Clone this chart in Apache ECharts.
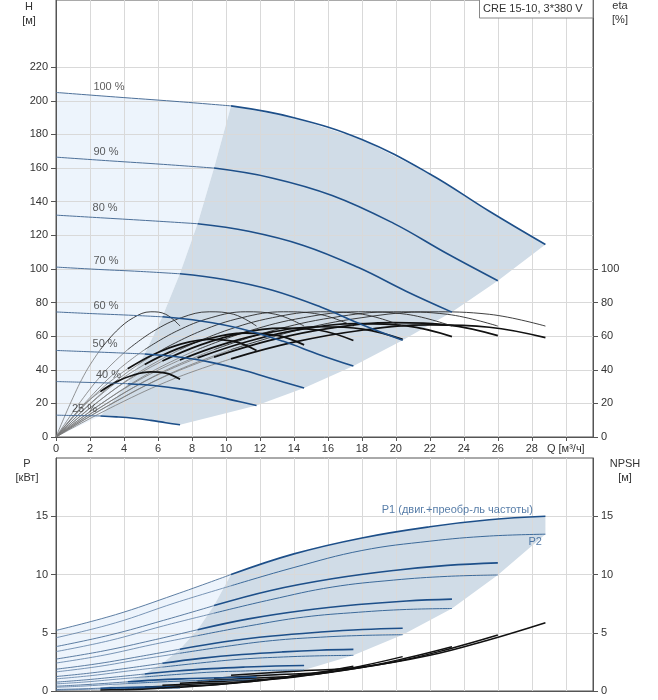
<!DOCTYPE html>
<html lang="ru">
<head>
<meta charset="UTF-8">
<title>CRE 15-10, 3*380 V</title>
<script src="https://cdn.jsdelivr.net/npm/echarts@6/dist/echarts.min.js"></script>
<style>html,body{margin:0;padding:0;background:#fff}</style>
</head>
<body>
<div id="main" style="width:658px;height:700px;"></div>
<script>
// скорости (подписи кривых)
var speedNames = ['100 %', '90 %', '80 %', '70 %', '60 %', '50 %', '40 %', '25 %'];

// расход Q [м³/ч]; точки 0..3 - до мин. расхода, 3..8 - рабочая зона
var flow = [
  [0, 3.5, 7, 10.3, 14, 18, 22, 25.5, 28.8],
  [0, 3.16, 6.32, 9.3, 12.64, 16.25, 19.87, 23.03, 26.0],
  [0, 2.83, 5.66, 8.33, 11.33, 14.56, 17.8, 20.63, 23.3],
  [0, 2.48, 4.96, 7.29, 9.91, 12.74, 15.58, 18.05, 20.4],
  [0, 2.13, 4.26, 6.26, 8.51, 10.94, 13.38, 15.5, 17.5],
  [0, 1.77, 3.55, 5.22, 7.1, 9.13, 11.15, 12.93, 14.6],
  [0, 1.44, 2.87, 4.22, 5.74, 7.38, 9.02, 10.46, 11.8],
  [0, 0.89, 1.77, 2.61, 3.55, 4.56, 5.58, 6.46, 7.3]
];

// напор H [м]
var head = [
  [205, 202.3, 199.7, 197, 190, 177, 156.5, 134.3, 114.5],
  [166.5, 164.3, 162.2, 160, 154.3, 143.7, 127.1, 109, 93],
  [132, 130.3, 128.6, 126.9, 122.4, 114, 100.8, 86.6, 74.3],
  [101.1, 99.7, 98.5, 97.1, 93.7, 87.3, 77.3, 66.6, 57.5],
  [74.4, 73.4, 72.5, 71.5, 69, 64.3, 56.9, 49, 42.2],
  [51.5, 50.8, 50.1, 49.4, 47.7, 44.4, 39.4, 34, 29.2],
  [33, 32.6, 32.2, 31.7, 30.6, 28.5, 25.3, 21.8, 18.7],
  [13, 12.8, 12.7, 12.5, 12.0, 11.2, 9.9, 8.5, 7.3]
];

// КПД насоса [%] (одинаков для всех скоростей по точкам flow)
var etaPump = [0, 21, 39, 52, 63, 71, 74.5, 73, 66];

// общий КПД (двиг.+преобр.) [%]
var etaTotal = [
  [0, 18.8, 34.9, 46.5, 56.4, 63.5, 66.7, 65.3, 59.1],
  [0, 19.2, 35.6, 47.5, 57.6, 64.9, 68.1, 66.7, 60.3],
  [0, 19, 35.3, 47.1, 57, 64.3, 67.4, 66.1, 59.7],
  [0, 18.5, 34.3, 45.8, 55.4, 62.5, 65.6, 64.2, 58.1],
  [0, 18.3, 33.9, 45.2, 54.8, 61.8, 64.8, 63.5, 57.4],
  [0, 17.4, 32.4, 43.2, 52.3, 58.9, 61.8, 60.6, 54.8],
  [0, 16.4, 30.4, 40.6, 49.1, 55.4, 58.1, 56.9, 51.5],
  [0, 10.9, 20.3, 27, 32.8, 36.9, 38.7, 38, 34.3]
];

// мощность P1 [кВт]
var powerP1 = [
  [5.2, 6.55, 8.27, 10.0, 11.77, 13.14, 14.1, 14.7, 15.0],
  [3.81, 4.8, 6.06, 7.33, 8.63, 9.63, 10.34, 10.78, 11.0],
  [2.74, 3.45, 4.35, 5.26, 6.19, 6.91, 7.42, 7.73, 7.89],
  [1.87, 2.35, 2.97, 3.59, 4.23, 4.72, 5.06, 5.28, 5.39],
  [1.24, 1.56, 1.97, 2.38, 2.8, 3.13, 3.36, 3.5, 3.57],
  [0.76, 0.96, 1.21, 1.46, 1.72, 1.92, 2.06, 2.15, 2.19],
  [0.41, 0.52, 0.65, 0.79, 0.93, 1.04, 1.11, 1.16, 1.19],
  [0.13, 0.16, 0.2, 0.24, 0.28, 0.32, 0.34, 0.35, 0.36]
];

// мощность P2 [кВт]
var powerP2 = [
  [4.57, 5.85, 7.56, 9.03, 10.6, 12.06, 12.86, 13.3, 13.46],
  [3.38, 4.33, 5.59, 6.68, 7.84, 8.92, 9.52, 9.84, 9.96],
  [2.4, 3.08, 3.98, 4.75, 5.58, 6.34, 6.76, 7.0, 7.08],
  [1.64, 2.1, 2.71, 3.24, 3.81, 4.33, 4.62, 4.77, 4.83],
  [1.04, 1.33, 1.72, 2.05, 2.41, 2.74, 2.92, 3.02, 3.06],
  [0.61, 0.78, 1.01, 1.21, 1.42, 1.62, 1.72, 1.78, 1.8],
  [0.32, 0.41, 0.53, 0.64, 0.75, 0.85, 0.91, 0.94, 0.95],
  [0.08, 0.11, 0.14, 0.17, 0.2, 0.22, 0.24, 0.25, 0.25]
];

// NPSH [м], только рабочая зона (точки flow 3..8)
var npsh = [
  [1.35, 1.7, 2.06, 3.06, 4.4, 5.86],
  [1.1, 1.38, 1.67, 2.48, 3.57, 4.8],
  [0.87, 1.09, 1.33, 1.97, 2.83, 3.8],
  [0.67, 0.84, 1.02, 1.51, 2.17, 2.95],
  [0.49, 0.62, 0.75, 1.11, 1.6, 2.13],
  [0.34, 0.43, 0.52, 0.77, 1.1, 1.47],
  [0.22, 0.27, 0.33, 0.49, 0.71, 0.94],
  [0.09, 0.11, 0.13, 0.19, 0.28, 0.37]
];

// точки привязки подписей скоростей [Q, H]
var speedLabelSpots = [[2.2, 208], [2.2, 169.5], [2.15, 136], [2.2, 104.5], [2.2, 77.7], [2.15, 55.3], [2.35, 37], [0.94, 16.8]];

var FONT = 'Liberation Sans, Arial, sans-serif';
var LIGHT = 3;   // индекс точки мин. расхода

function pts(xs, ys, from, to) {
    var out = [];
    for (var i = from; i <= to; i++) out.push([xs[i], ys[i - (xs.length - ys.length)]]);
    return out;
}

function line(data, x, y, color, width) {
    return {
        type: 'line', xAxisIndex: x, yAxisIndex: y, data: data,
        showSymbol: false, smooth: 0.4, silent: true,
        lineStyle: { color: color, width: width }
    };
}

function poly(points, color, x, y) {
    return {
        type: 'custom', xAxisIndex: x, yAxisIndex: y, z: -1, silent: true,
        data: [[0, 0]],
        renderItem: function (params, api) {
            return {
                type: 'polygon',
                shape: { points: points.map(function (p) { return api.coord(p); }) },
                style: { fill: color }
            };
        }
    };
}

var series = [];

// --- заливки верхнего графика
var lightTop = [[0, 0]].concat(pts(flow[0], head[0], 0, LIGHT));
for (var i = 1; i < 8; i++) lightTop.push([flow[i][LIGHT], head[i][LIGHT]]);
lightTop.push([0, 0]);
var greyTop = pts(flow[0], head[0], LIGHT, 8);
for (i = 1; i < 8; i++) greyTop.push([flow[i][8], head[i][8]]);
greyTop = greyTop.concat(pts(flow[7], head[7], LIGHT, 7).reverse());
for (i = 6; i >= 0; i--) greyTop.push([flow[i][LIGHT], head[i][LIGHT]]);
series.push(poly(lightTop, '#edf4fc', 0, 0));
series.push(poly(greyTop, '#d0dce7', 0, 0));

// --- заливки нижнего графика
var lightBot = [[0, 0]].concat(pts(flow[0], powerP1[0], 0, LIGHT));
for (i = 1; i < 8; i++) lightBot.push([flow[i][LIGHT], powerP1[i][LIGHT]]);
lightBot.push([0, 0]);
var greyBot = pts(flow[0], powerP1[0], LIGHT, 8);
greyBot.push([flow[0][8], powerP2[0][8]]);
for (i = 1; i < 8; i++) greyBot.push([flow[i][8], powerP2[i][8]]);
greyBot = greyBot.concat(pts(flow[7], powerP2[7], LIGHT, 7).reverse());
for (i = 7; i >= 0; i--) greyBot.push([flow[i][LIGHT], powerP1[i][LIGHT]]);
series.push(poly(lightBot, '#edf4fc', 1, 2));
series.push(poly(greyBot, '#d0dce7', 1, 2));

// --- КПД
for (i = 0; i < 8; i++) {
    series.push(line(pts(flow[i], etaPump, 0, LIGHT), 0, 1, '#7a7a7a', 0.8));
    series.push(line(pts(flow[i], etaTotal[i], 0, LIGHT), 0, 1, '#7a7a7a', 0.8));
    series.push(line(pts(flow[i], etaPump, LIGHT, 8), 0, 1, '#2a2a2a', 0.9));
    series.push(line(pts(flow[i], etaTotal[i], LIGHT, 8), 0, 1, '#111', 1.7));
}
// --- напор
for (i = 0; i < 8; i++) {
    series.push(line(pts(flow[i], head[i], 0, LIGHT), 0, 0, '#4d7099', 1));
    series.push(line(pts(flow[i], head[i], LIGHT, 8), 0, 0, '#1d4f89', 1.6));
}
// --- мощность и NPSH
for (i = 0; i < 8; i++) {
    series.push(line(pts(flow[i], powerP2[i], 0, LIGHT), 1, 2, '#5a7ca3', 0.8));
    series.push(line(pts(flow[i], powerP1[i], 0, LIGHT), 1, 2, '#4d7099', 0.9));
    series.push(line(pts(flow[i], powerP2[i], LIGHT, 8), 1, 2, '#3c6a9a', 1));
    series.push(line(pts(flow[i], powerP1[i], LIGHT, 8), 1, 2, '#1d4f89', 1.6));
    series.push(line(pts(flow[i], npsh[i], LIGHT, 8), 1, 3, '#111', 1.5));
}

// --- подписи
series.push({
    type: 'scatter', xAxisIndex: 0, yAxisIndex: 0, symbolSize: 0, silent: true, z: 5,
    data: speedLabelSpots.map(function (p, k) { return { value: p, name: speedNames[k] }; }),
    label: { show: true, position: 'right', distance: 0, formatter: '{b}', fontSize: 11, color: '#333', fontFamily: FONT }
});
series.push({
    type: 'scatter', xAxisIndex: 1, yAxisIndex: 2, symbolSize: 0, silent: true, z: 5,
    data: [{ value: [28.06, 15.5], name: 'P1 (двиг.+преобр-ль частоты)', label: { position: 'left' } },
           { value: [27.8, 12.8], name: 'P2', label: { position: 'right' } }],
    label: { show: true, distance: 0, formatter: '{b}', fontSize: 11, color: '#2d5d92', fontFamily: FONT }
});

var gridLine = { show: true, lineStyle: { color: '#d9d9d9', width: 1 } };
var axLine = { show: true, lineStyle: { color: '#555', width: 1 } };
var lbl = { fontSize: 11, color: '#333', fontFamily: FONT };

function range(a, b, s) { var r = []; for (var v = a; v <= b; v += s) r.push(v); return r; }

var option = {
    animation: false,
    grid: [
        { left: 56, top: 0, width: 537, height: 437, show: true, borderColor: '#555', borderWidth: 1 },
        { left: 56, top: 458, width: 537, height: 233, show: true, borderColor: '#555', borderWidth: 1 }
    ],
    xAxis: [
        {
            gridIndex: 0, type: 'value', min: 0, max: 31.6, interval: 2,
            axisLine: axLine,
            axisTick: { show: true, length: 4, customValues: range(0, 30, 2), lineStyle: { color: '#555' } },
            axisLabel: Object.assign({ margin: 6, customValues: range(0, 30, 2),
                formatter: function (v) { return v === 30 ? 'Q [м³/ч]' : v; } }, lbl),
            splitLine: gridLine
        },
        {
            gridIndex: 1, type: 'value', min: 0, max: 31.6, interval: 2,
            axisLine: axLine, axisTick: { show: false }, axisLabel: { show: false },
            splitLine: gridLine
        }
    ],
    yAxis: [
        {
            gridIndex: 0, type: 'value', position: 'left', min: 0, max: 260, interval: 20,
            axisLine: axLine,
            axisTick: { show: true, length: 5, customValues: range(0, 220, 20), lineStyle: { color: '#555' } },
            axisLabel: Object.assign({ margin: 8, customValues: range(0, 220, 20) }, lbl),
            splitLine: gridLine
        },
        {
            gridIndex: 0, type: 'value', position: 'right', min: 0, max: 260, interval: 20,
            axisLine: axLine,
            axisTick: { show: true, length: 5, customValues: range(0, 100, 20), lineStyle: { color: '#555' } },
            axisLabel: Object.assign({ margin: 8, customValues: range(0, 100, 20) }, lbl),
            splitLine: { show: false }
        },
        {
            gridIndex: 1, type: 'value', position: 'left', min: 0, max: 20, interval: 5,
            axisLine: axLine,
            axisTick: { show: true, length: 5, customValues: [0, 5, 10, 15], lineStyle: { color: '#555' } },
            axisLabel: Object.assign({ margin: 8, customValues: [0, 5, 10, 15] }, lbl),
            splitLine: gridLine
        },
        {
            gridIndex: 1, type: 'value', position: 'right', min: 0, max: 20, interval: 5,
            axisLine: axLine,
            axisTick: { show: true, length: 5, customValues: [0, 5, 10, 15], lineStyle: { color: '#555' } },
            axisLabel: Object.assign({ margin: 8, customValues: [0, 5, 10, 15] }, lbl),
            splitLine: { show: false }
        }
    ],
    graphic: [
        { type: 'text', x: 29, y: 7, style: { text: 'H', font: '11px ' + FONT, fill: '#333', align: 'center', verticalAlign: 'middle' } },
        { type: 'text', x: 29, y: 21, style: { text: '[м]', font: '11px ' + FONT, fill: '#333', align: 'center', verticalAlign: 'middle' } },
        { type: 'text', x: 620, y: 6, style: { text: 'eta', font: '11px ' + FONT, fill: '#333', align: 'center', verticalAlign: 'middle' } },
        { type: 'text', x: 620, y: 20, style: { text: '[%]', font: '11px ' + FONT, fill: '#333', align: 'center', verticalAlign: 'middle' } },
        { type: 'text', x: 27, y: 464, style: { text: 'P', font: '11px ' + FONT, fill: '#333', align: 'center', verticalAlign: 'middle' } },
        { type: 'text', x: 27, y: 478, style: { text: '[кВт]', font: '11px ' + FONT, fill: '#333', align: 'center', verticalAlign: 'middle' } },
        { type: 'text', x: 625, y: 464, style: { text: 'NPSH', font: '11px ' + FONT, fill: '#333', align: 'center', verticalAlign: 'middle' } },
        { type: 'text', x: 625, y: 478, style: { text: '[м]', font: '11px ' + FONT, fill: '#333', align: 'center', verticalAlign: 'middle' } },
        { type: 'rect', z: 10, shape: { x: 479.5, y: -1, width: 113.5, height: 19 }, style: { fill: '#fff', stroke: '#888', lineWidth: 1 } },
        { type: 'text', z: 11, x: 483, y: 9, style: { text: 'CRE 15-10, 3*380 V', font: '11px ' + FONT, fill: '#333', verticalAlign: 'middle' } }
    ],
    series: series
};

var chart = echarts.init(document.getElementById('main'));
chart.setOption(option);
</script>
</body>
</html>
